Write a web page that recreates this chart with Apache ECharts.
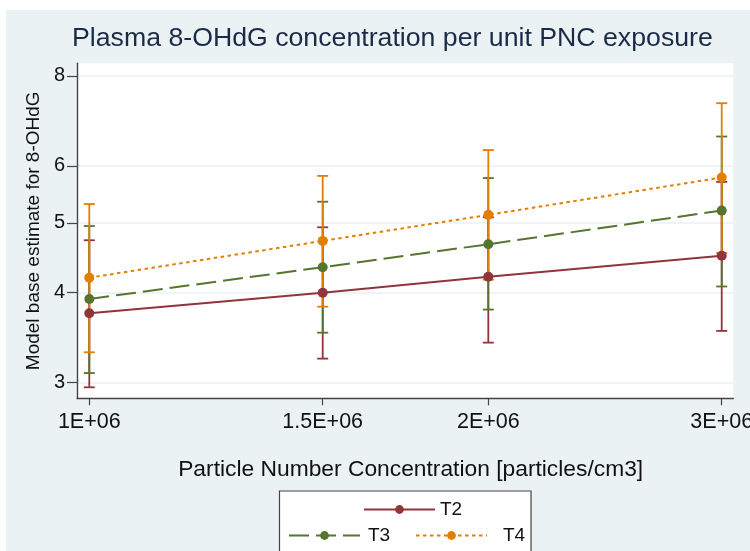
<!DOCTYPE html>
<html>
<head>
<meta charset="utf-8">
<script src="https://cdn.jsdelivr.net/npm/echarts@6/dist/echarts.min.js"></script>
<style>html,body{margin:0;padding:0;background:#fff}#c{width:750px;height:551px}</style>
</head>
<body>
<div id="c"></div>
<script>
// ---- data ----
const xValues = [1000000, 1500000, 2000000, 3000000];
const xTickValues = [1000000, 1500000, 2000000, 3000000];
const xTickLabels = ['1E+06', '1.5E+06', '2E+06', '3E+06'];
const yTickValues = [3, 4, 5, 6, 8];

const t2Mean = [3.745, 4.00, 4.21, 4.50];
const t2Low  = [2.956, 3.24, 3.41, 3.54];
const t2High = [4.73, 4.93, 5.09, 5.70];

const t3Mean = [3.92, 4.34, 4.67, 5.20];
const t3Low  = [3.094, 3.52, 3.79, 4.08];
const t3High = [4.95, 5.35, 5.77, 6.59];

const t4Mean = [4.196, 4.72, 5.13, 5.78];
const t4Low  = [3.306, 3.825, 4.17, 4.54];
const t4High = [5.31, 5.81, 6.31, 7.33];

const seriesNames = ['T2', 'T3', 'T4'];
const colors = ['#90353b', '#55752f', '#e37e00'];

// ---- build ----
const FONT = '"Liberation Sans", Arial, sans-serif';
function pairs(xs, ys) { return xs.map((x, i) => [x, ys[i]]); }
function triples(xs, lo, hi) { return xs.map((x, i) => [x, lo[i], hi[i]]); }

function errorSeries(name, color, lo, hi) {
  return {
    type: 'custom',
    name: name + ' CI',
    z: 1,
    silent: true,
    encode: { x: 0, y: [1, 2] },
    data: triples(xValues, lo, hi),
    renderItem: function (params, api) {
      const x = api.value(0);
      const a = api.coord([x, api.value(1)]);
      const b = api.coord([x, api.value(2)]);
      const w = 5.5;
      const st = { stroke: color, lineWidth: 1.8 };
      return {
        type: 'group',
        children: [
          { type: 'line', shape: { x1: a[0], y1: a[1], x2: b[0], y2: b[1] }, style: st },
          { type: 'line', shape: { x1: a[0] - w, y1: a[1], x2: a[0] + w, y2: a[1] }, style: st },
          { type: 'line', shape: { x1: b[0] - w, y1: b[1], x2: b[0] + w, y2: b[1] }, style: st }
        ]
      };
    }
  };
}

function lineSeries(name, color, mean, dash) {
  return {
    type: 'line',
    name: name,
    z: 3,
    data: pairs(xValues, mean),
    symbol: 'circle',
    symbolSize: 10,
    showAllSymbol: true,
    itemStyle: { color: color },
    lineStyle: { color: color, width: 2, type: dash },
    emphasis: { disabled: true },
    animation: false
  };
}

const chart = echarts.init(document.getElementById('c'), null, { renderer: 'canvas' });

const legendCommon = {
  orient: 'horizontal',
  padding: 0,
  itemWidth: 71,
  itemHeight: 11,
  selectedMode: false,
  textStyle: { fontFamily: FONT, fontSize: 19, color: '#111' }
};

chart.setOption({
  animation: false,
  backgroundColor: '#eaf2f3',
  textStyle: { fontFamily: FONT },
  title: {
    text: 'Plasma 8-OHdG concentration per unit PNC exposure',
    left: 72, top: 25, padding: 0,
    textStyle: { fontFamily: FONT, fontSize: 26.7, fontWeight: 'normal', color: '#1a2a48' }
  },
  graphic: [
    { type: 'rect', shape: { x: 0, y: 0, width: 750, height: 10 }, style: { fill: '#ffffff' } },
    { type: 'rect', shape: { x: 0, y: 0, width: 6, height: 551 }, style: { fill: '#ffffff' } },
    { type: 'rect', shape: { x: 279.5, y: 491, width: 251.5, height: 80 }, style: { fill: '#ffffff', stroke: '#444', lineWidth: 1.2 } }
  ],
  legend: [
    Object.assign({}, legendCommon, { data: ['T2'], left: 363, top: 500, textStyle: Object.assign({}, legendCommon.textStyle, { padding: [0, 0, 0, 0] }) }),
    Object.assign({}, legendCommon, { data: ['T3'], left: 288, top: 526, textStyle: Object.assign({}, legendCommon.textStyle, { padding: [0, 0, 0, 3] }) }),
    Object.assign({}, legendCommon, { data: ['T4'], left: 415, top: 526, textStyle: Object.assign({}, legendCommon.textStyle, { padding: [0, 0, 0, 11] }) })
  ],
  grid: {
    left: 77, right: 16.7, top: 63.3, bottom: 152.7,
    show: true, backgroundColor: '#ffffff', borderWidth: 0,
    containLabel: false,
    outerBoundsMode: 'none'
  },
  xAxis: {
    type: 'log',
    logBase: 10,
    min: 978860,
    max: 3061000,
    name: 'Particle Number Concentration [particles/cm3]',
    nameLocation: 'middle',
    nameGap: 60,
    nameTextStyle: { fontFamily: FONT, fontSize: 22.8, color: '#111', padding: [0, 0, 0, 11] },
    axisLine: { show: true, onZero: false, lineStyle: { color: '#444', width: 1.4 } },
    axisTick: { show: true, customValues: xTickValues, length: 7, lineStyle: { color: '#444', width: 1.2 } },
    axisLabel: {
      show: true, customValues: xTickValues, margin: 13,
      fontFamily: FONT, fontSize: 21.5, color: '#111',
      formatter: function (v) {
        const i = xTickValues.findIndex(t => Math.abs(t - v) / t < 1e-6);
        return i >= 0 ? xTickLabels[i] : '';
      }
    },
    splitLine: { show: false },
    minorTick: { show: false }
  },
  yAxis: {
    type: 'log',
    logBase: 10,
    min: 2.854,
    max: 8.327,
    name: 'Model base estimate for 8-OHdG',
    nameLocation: 'middle',
    nameGap: 29,
    nameRotate: 90,
    nameTextStyle: { fontFamily: FONT, fontSize: 19, color: '#111' },
    axisLine: { show: true, onZero: false, lineStyle: { color: '#444', width: 1.4 } },
    axisTick: { show: true, customValues: yTickValues, length: 10, lineStyle: { color: '#444', width: 1.2 } },
    axisLabel: {
      show: true, customValues: yTickValues, margin: 12,
      fontFamily: FONT, fontSize: 20, color: '#111',
      formatter: function (v) { return String(Math.round(v)); }
    },
    splitLine: { show: true, lineStyle: { color: '#eaf2f3', width: 1.5 } }
  },
  series: [
    errorSeries('T2', colors[0], t2Low, t2High),
    errorSeries('T3', colors[1], t3Low, t3High),
    errorSeries('T4', colors[2], t4Low, t4High),
    lineSeries('T2', colors[0], t2Mean, 'solid'),
    lineSeries('T3', colors[1], t3Mean, [20, 7]),
    lineSeries('T4', colors[2], t4Mean, [3.5, 3.5])
  ]
});
</script>
</body>
</html>
